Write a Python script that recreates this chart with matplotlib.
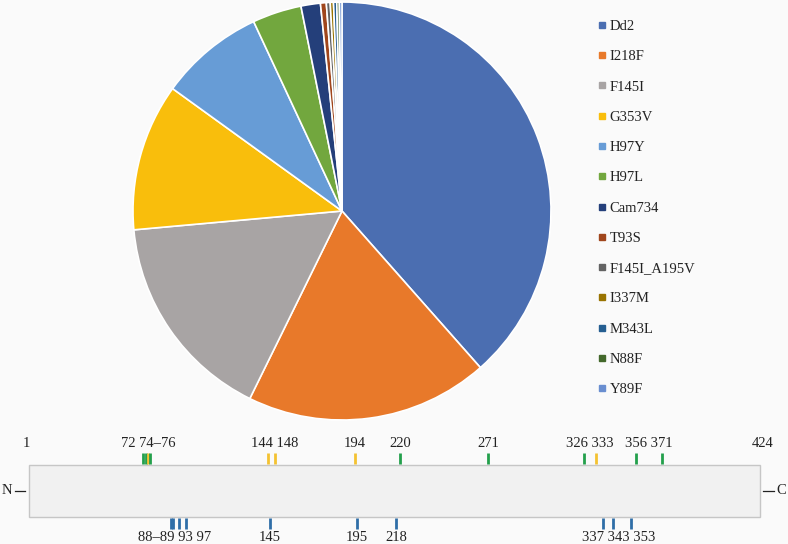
import matplotlib.pyplot as plt
from matplotlib.lines import Line2D
from matplotlib.patches import Rectangle

# pie data (share of isolates, %)
variants = ["Dd2", "I218F", "F145I", "G353V", "H97Y", "H97L", "Cam734", "T93S",
            "F145I_A195V", "I337M", "M343L", "N88F", "Y89F"]
shares = [38.5, 18.8, 16.3, 11.4, 8.1, 3.8, 1.5, 0.45, 0.3, 0.25, 0.25, 0.2, 0.2]
colors = ["#4B6EB1", "#E8792A", "#A8A4A4", "#F9BE0C", "#679CD6", "#72A73E", "#243F7A",
          "#A0461C", "#636363", "#997300", "#255E91", "#43682B", "#698ED0"]

# protein schematic
seq_len = 424
top_sites = [72, 74, 75, 76, 144, 148, 194, 220, 271, 326, 333, 356, 371]
top_kind = ["g", "g", "y", "g", "y", "y", "y", "g", "g", "g", "y", "g", "g"]
bottom_sites = [88, 89, 93, 97, 145, 195, 218, 337, 343, 353]
top_labels = ["72 74\u201376", "144 148", "194", "220", "271", "326 333", "356 371"]
top_label_pos = [75, 148, 194, 220, 271, 329.5, 363.5]
bottom_labels = ["88\u201389 93 97", "145", "195", "218", "337 343 353"]
bottom_label_pos = [90, 145, 195, 218, 346]

kind_color = {"g": "#23a04c", "y": "#f4c232"}
blue = "#2f6ea8"
bg = "#fafafa"
txt = "#222222"
fs = 10.5

plt.rcParams["font.family"] = ["Liberation Serif", "DejaVu Serif"]

fig = plt.figure(figsize=(7.88, 5.44), dpi=100, facecolor=bg)

# pie
ax = fig.add_axes([133 / 788, 124 / 544, 418 / 788, 418 / 544])
ax.set_facecolor(bg)
ax.pie(shares, colors=colors, startangle=90, counterclock=False,
       wedgeprops=dict(edgecolor="white", linewidth=1.2))
ax.set_xlim(-1, 1)
ax.set_ylim(-1, 1)
ax.set_aspect("equal")

handles = [Line2D([], [], marker="s", linestyle="none", markersize=4.5,
                  markerfacecolor=c, markeredgecolor=c) for c in colors]
fig.legend(handles, variants, loc="upper left", bbox_to_anchor=(590 / 788, 1 - 12.5 / 544),
           frameon=False, fontsize=fs, labelspacing=1.17, handlelength=0.6,
           handletextpad=0.25, borderpad=0, labelcolor=txt)

# schematic axes: x in residues, box spans y 0..1
bx = fig.add_axes([0, 0, 1, 114 / 544])
bx.set_facecolor(bg)
bx.set_xlim(-10.4, 443.6)
bx.set_ylim(-0.52, 1.67)
bx.axis("off")

x0, x1 = 6.3, 427.4
bx.add_patch(Rectangle((x0, 0), x1 - x0, 1, facecolor="#f1f1f1",
                       edgecolor="#c6c6c6", linewidth=1))

for s, k in zip(top_sites, top_kind):
    bx.plot([s, s], [1.02, 1.22], color=kind_color[k], linewidth=2, solid_capstyle="butt")
for s in bottom_sites:
    bx.plot([s, s], [-0.02, -0.23], color=blue, linewidth=2, solid_capstyle="butt")

for lab, p in zip(top_labels, top_label_pos):
    bx.text(p, 1.28, lab, ha="center", va="bottom", fontsize=fs, color=txt)
bx.text(5, 1.28, "1", ha="center", va="bottom", fontsize=fs, color=txt)
bx.text(429, 1.28, str(seq_len), ha="center", va="bottom", fontsize=fs, color=txt)
for lab, p in zip(bottom_labels, bottom_label_pos):
    bx.text(p, -0.27, lab, ha="center", va="top", fontsize=fs, color=txt)

# N / C termini with short connectors
bx.plot([x0 - 8, x0 - 2.3], [0.5, 0.5], color=txt, linewidth=0.9)
bx.plot([x1 + 1.7, x1 + 8], [0.5, 0.5], color=txt, linewidth=0.9)
bx.text(x0 - 9.5, 0.5, "N", ha="right", va="center", fontsize=fs, color=txt)
bx.text(x1 + 9.3, 0.5, "C", ha="left", va="center", fontsize=fs, color=txt)

fig.savefig("out.png", dpi=100, facecolor=bg)
